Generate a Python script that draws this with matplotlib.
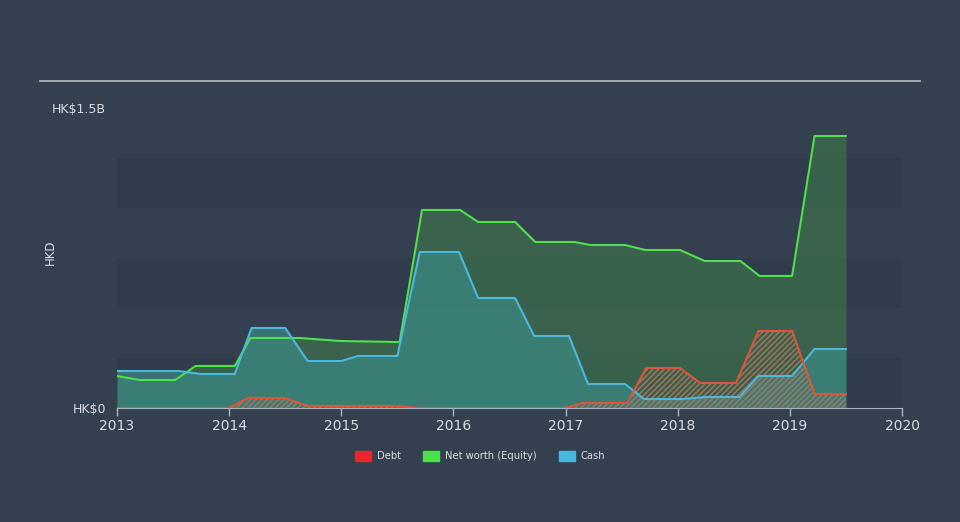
import matplotlib.pyplot as plt
from matplotlib.lines import Line2D
from matplotlib.patches import Patch

# values in HK$ billions, dates in decimal years
eq_t = [2013.0, 2013.2, 2013.52, 2013.7, 2014.05, 2014.19, 2014.63, 2014.99, 2015.48, 2015.52,
        2015.72, 2016.06, 2016.22, 2016.55, 2016.73, 2017.08, 2017.22, 2017.53, 2017.71, 2018.02,
        2018.24, 2018.56, 2018.73, 2019.02, 2019.22, 2019.5]
eq_v = [0.16, 0.14, 0.14, 0.21, 0.21, 0.35, 0.35, 0.335, 0.33, 0.33,
        0.99, 0.99, 0.93, 0.93, 0.83, 0.83, 0.815, 0.815, 0.79, 0.79,
        0.735, 0.735, 0.66, 0.66, 1.36, 1.36]

cash_t = [2013.0, 2013.55, 2013.75, 2014.05, 2014.2, 2014.5, 2014.7, 2015.0, 2015.15, 2015.5,
          2015.7, 2016.05, 2016.22, 2016.55, 2016.72, 2017.03, 2017.2, 2017.53, 2017.7, 2018.05,
          2018.25, 2018.55, 2018.72, 2019.02, 2019.22, 2019.5]
cash_v = [0.185, 0.185, 0.17, 0.17, 0.40, 0.40, 0.235, 0.235, 0.26, 0.26,
          0.78, 0.78, 0.55, 0.55, 0.36, 0.36, 0.12, 0.12, 0.045, 0.045,
          0.055, 0.055, 0.16, 0.16, 0.295, 0.295]

debt_t = [2013.0, 2014.0, 2014.17, 2014.5, 2014.7, 2015.5, 2015.7, 2017.0, 2017.15, 2017.55,
          2017.72, 2018.02, 2018.2, 2018.52, 2018.72, 2019.02, 2019.22, 2019.5]
debt_v = [0, 0, 0.05, 0.05, 0.01, 0.01, 0.0, 0, 0.025, 0.025,
          0.2, 0.2, 0.125, 0.125, 0.385, 0.385, 0.07, 0.07]

years = [2013, 2014, 2015, 2016, 2017, 2018, 2019, 2020]

bg = '#344050'
band = '#303c4c'
txt = '#d8dde3'
green = '#4fe04a'
blue = '#4bb8dc'
red = '#e0553a'

fig = plt.figure(figsize=(9.6, 5.22), dpi=100, facecolor=bg)
ax = fig.add_axes([117/960, 1 - 408/522, (902-117)/960, 300/522])
ax.set_facecolor(bg)

for lo in [0, 0.5, 1.0]:
    ax.axhspan(lo, lo + 0.25, color=band, zorder=0, lw=0)

ax.fill_between(eq_t, eq_v, color='#3f7a4c', alpha=0.6, lw=0, zorder=1)
ax.fill_between(cash_t, cash_v, color='#3b8a86', alpha=0.7, lw=0, zorder=2)
ax.fill_between(debt_t, debt_v, facecolor='none', edgecolor='#b0735f', hatch='//////',
                lw=0, zorder=3)
ax.plot(eq_t, eq_v, color=green, lw=1.5, zorder=4)
ax.plot(cash_t, cash_v, color=blue, lw=1.5, zorder=5)
ax.plot(debt_t, debt_v, color=red, lw=1.5, zorder=6)

ax.set_xlim(2013, 2020)
ax.set_ylim(0, 1.5)
ax.set_xticks(years)
ax.set_xticklabels([str(y) for y in years], color=txt, fontsize=10)
ax.set_yticks([0, 1.5])
ax.set_yticklabels(['HK$0', 'HK$1.5B'], color=txt, fontsize=9)
ax.tick_params(axis='x', colors='#aab4c0', length=6, width=1, pad=2, labelcolor=txt)
ax.tick_params(axis='y', length=0, pad=8, labelcolor=txt)
for s in ['top', 'right', 'left']:
    ax.spines[s].set_visible(False)
ax.spines['bottom'].set_color('#aab4c0')
ax.set_ylabel('HKD', color=txt, fontsize=8.5)
ax.yaxis.set_label_coords((57 - 117) / 785, 0.52)

fig.add_artist(Line2D([40/960, 920/960], [1 - 81/522, 1 - 81/522], color='#b8bec6', lw=1.2))

handles = [Patch(color='#e8262b', label='Debt'),
           Patch(color='#4ddf4b', label='Net worth (Equity)'),
           Patch(color='#49b7dd', label='Cash')]
fig.legend(handles=handles, loc='center', bbox_to_anchor=(0.5, 1 - 456/522), ncol=3,
           frameon=False, fontsize=7.2, labelcolor=txt, handlelength=1.6, handleheight=1.3,
           columnspacing=2.2, handletextpad=0.6)

fig.savefig('out.png', facecolor=bg)
